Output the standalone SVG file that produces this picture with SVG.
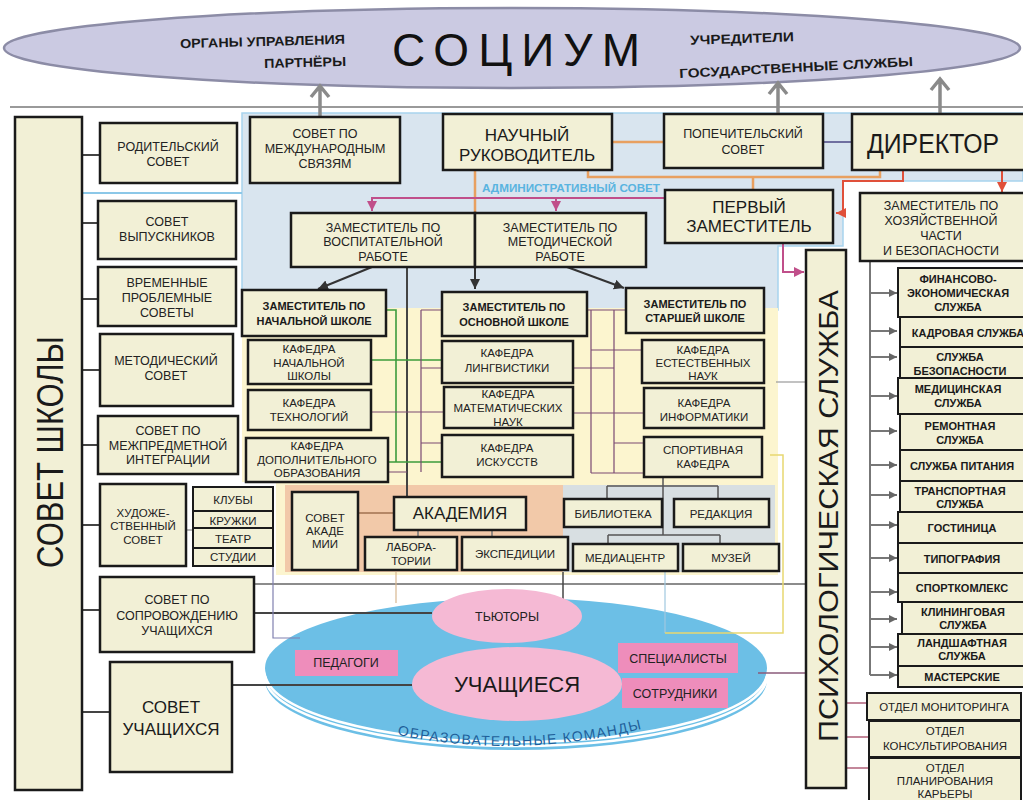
<svg xmlns="http://www.w3.org/2000/svg" width="1023" height="800" viewBox="0 0 1023 800">
<style>
.b{fill:#f2f0d6;stroke:#1a1a1a;stroke-width:2.5}
.s{fill:#f2f0d6;stroke:#1a1a1a;stroke-width:2}
.t{font-family:"Liberation Sans",Arial,sans-serif;font-size:12.5px;fill:#222;text-anchor:middle}
.k{font-family:"Liberation Sans",Arial,sans-serif;font-size:11.5px;fill:#222;text-anchor:middle}
.tb{font-family:"Liberation Sans",Arial,sans-serif;font-size:11px;font-weight:bold;fill:#1a1a1a;text-anchor:middle}
.big{font-family:"Liberation Sans",Arial,sans-serif;font-size:17px;fill:#1a1a1a;text-anchor:middle}
.top{font-family:"Liberation Sans",Arial,sans-serif;font-size:13px;font-weight:bold;fill:#1a1a1a}
.pk{fill:#ee8dbb}
.pe{fill:#f5b9d4}
.dk{fill:none;stroke:#444;stroke-width:2}
.gr{fill:none;stroke:#3c9c3c;stroke-width:1.6}
.pu{fill:none;stroke:#7a4a72;stroke-width:1.2}
.or{fill:none;stroke:#e8a060;stroke-width:2.5}
.mg{fill:none;stroke:#c04f8a;stroke-width:2}
.rd{fill:none;stroke:#e0503a;stroke-width:2}
.sv{fill:none;stroke:#777;stroke-width:2}
.up{fill:none;stroke:#8a8a8a;stroke-width:3.5}
</style>
<defs>
<marker id="aDk" markerUnits="userSpaceOnUse" markerWidth="12" markerHeight="12" refX="10" refY="5" orient="auto"><path d="M0,0 L10,5 L0,10 Z" fill="#333"/></marker>
<marker id="aMg" markerUnits="userSpaceOnUse" markerWidth="12" markerHeight="12" refX="10" refY="5" orient="auto"><path d="M0,0 L10,5 L0,10 Z" fill="#c04f8a"/></marker>
<marker id="aRd" markerUnits="userSpaceOnUse" markerWidth="12" markerHeight="12" refX="10" refY="5" orient="auto"><path d="M0,0 L10,5 L0,10 Z" fill="#e0503a"/></marker>
<marker id="aSv" markerUnits="userSpaceOnUse" markerWidth="10" markerHeight="10" refX="8" refY="4" orient="auto"><path d="M0,0 L8,4 L0,8 Z" fill="#666"/></marker>
<path id="arc" d="M 380 731 Q 518 764 660 724"/>
</defs>

<!-- backgrounds -->
<rect width="1023" height="800" fill="#ffffff"/>
<path d="M242,113 H1023 V181 H843 V246 H778 V310 H242 Z" fill="#d9e5ef" stroke="#a8d4ee" stroke-width="1.5"/>
<path d="M242,308 H778 V575 H276 V482 H242 Z" fill="#fcf5cf"/>
<rect x="285" y="485" width="278" height="87" fill="#f2c9a9"/>
<rect x="563" y="485" width="212" height="87" fill="#d8dfe2"/>

<!-- socium ellipse -->
<g id="socium">
<ellipse cx="512" cy="48" rx="508" ry="40" fill="#cbcae2" stroke="#8c8ca6" stroke-width="2.5"/>
<text class="top" x="180" y="46" textLength="165" lengthAdjust="spacingAndGlyphs" transform="rotate(-1.5 262 42)">ОРГАНЫ УПРАВЛЕНИЯ</text>
<text class="top" x="264" y="67" textLength="82" lengthAdjust="spacingAndGlyphs" transform="rotate(-1.5 305 62)">ПАРТНЁРЫ</text>
<text x="392" y="66" font-family="'Liberation Sans',Arial,sans-serif" font-size="46" fill="#111" textLength="248" lengthAdjust="spacing">СОЦИУМ</text>
<text class="top" x="690" y="43" textLength="104" lengthAdjust="spacingAndGlyphs" transform="rotate(-2 742 40)">УЧРЕДИТЕЛИ</text>
<text class="top" x="679" y="72" textLength="234" lengthAdjust="spacingAndGlyphs" transform="rotate(-3 796 66)">ГОСУДАРСТВЕННЫЕ СЛУЖБЫ</text>
</g>

<!-- pedagogical disc -->
<g id="disc">
<ellipse cx="516" cy="680" rx="251" ry="70" fill="#6cbfe6"/>
<path d="M265,676 A251,70 0 0 0 767,676" fill="none" stroke="#ffffff" stroke-width="2.5"/>
<path d="M265,672 A251,70 0 0 0 767,672" fill="none" stroke="#ffffff" stroke-width="2.5"/>
<ellipse cx="516" cy="668" rx="251" ry="70" fill="#6cbfe6"/>
<text font-family="'Liberation Sans',Arial,sans-serif" font-size="14" fill="#1f5f9a" letter-spacing="1.3"><textPath href="#arc" startOffset="50%" text-anchor="middle">ОБРАЗОВАТЕЛЬНЫЕ  КОМАНДЫ</textPath></text>
</g>

<!-- connectors -->
<g id="connectors">
<line x1="10" y1="107" x2="1023" y2="107" stroke="#9a9a9a" stroke-width="2"/>
<path class="up" d="M320,117 V88 M311,97 L320,86 L329,97"/>
<path class="up" d="M778,114 V85 M769,94 L778,83 L787,94"/>
<path class="up" d="M940,114 V81 M931,90 L940,79 L949,90"/>
<line x1="82" y1="193" x2="242" y2="193" stroke="#8cc8e8" stroke-width="2"/>
<path class="dk" d="M82,155 H100 M82,223 H98 M82,299 H98 M82,370 H100 M82,445 H98 M82,525 H100 M82,610 H100 M82,712 H110"/>
<path d="M186,530 H193" stroke="#888" stroke-width="1.2"/>
<path class="or" d="M612,142 H664 M588,170 V177 H880 V170 M753,177 V190 M475,170 V213"/>
<path d="M823,142 H852" stroke="#6f6fa0" stroke-width="2"/>
<path class="rd" d="M903,170 V181 H843 V213 H836" marker-end="url(#aRd)"/>
<path class="rd" d="M1002,170 V192" marker-end="url(#aRd)"/>
<path class="mg" d="M665,198 H372 V211" marker-end="url(#aMg)"/>
<path class="mg" d="M556,198 V211" marker-end="url(#aMg)"/>
<path class="mg" d="M783,243 V272 H804" marker-end="url(#aMg)"/>
<path d="M475,267 V289" stroke="#333" stroke-width="2" marker-end="url(#aDk)"/>
<path d="M372,267 L318,289" stroke="#333" stroke-width="2" marker-end="url(#aDk)"/>
<path d="M567,267 L624,288" stroke="#333" stroke-width="2" marker-end="url(#aDk)"/>
<path class="dk" d="M407,267 V497"/>
<path class="gr" d="M386,310 H396 V462 M371,360 H442 M388,462 H442"/>
<path class="pu" d="M421,310 H442 M421,310 V472 M421,368 H442 M371,412 H444 M421,443 H442 M388,472 H407"/>
<path class="pu" d="M587,310 H626 M591,310 V473 M614,310 V473 M591,350 H642 M573,368 H614 M573,413 H644 M614,443 H644 M591,473 H644"/>
<path d="M776,382 H806" stroke="#999" stroke-width="1.2"/>
<path d="M358,513 H394" stroke="#a07050" stroke-width="1.5"/>
<path d="M418,530 V537 M492,530 V537" stroke="#777" stroke-width="1.5"/>
<path d="M607,486 H718 M607,486 V499 M718,486 V499 M663,477 V535 M608,535 H720 M608,535 V544 M720,535 V544" fill="none" stroke="#555" stroke-width="1.5"/>
<path class="sv" d="M870,261 V675"/>
<path class="sv" marker-end="url(#aSv)" d="M870,293 H897"/>
<path class="sv" marker-end="url(#aSv)" d="M870,331 H897"/>
<path class="sv" marker-end="url(#aSv)" d="M870,357 H897"/>
<path class="sv" marker-end="url(#aSv)" d="M870,396 H897"/>
<path class="sv" marker-end="url(#aSv)" d="M870,431 H897"/>
<path class="sv" marker-end="url(#aSv)" d="M870,465 H897"/>
<path class="sv" marker-end="url(#aSv)" d="M870,495 H897"/>
<path class="sv" marker-end="url(#aSv)" d="M870,525 H897"/>
<path class="sv" marker-end="url(#aSv)" d="M870,558 H897"/>
<path class="sv" marker-end="url(#aSv)" d="M870,592 H897"/>
<path class="sv" marker-end="url(#aSv)" d="M870,619 H897"/>
<path class="sv" marker-end="url(#aSv)" d="M870,647 H897"/>
<path class="sv" marker-end="url(#aSv)" d="M870,675 H897"/>
<path d="M846,703 H867 M846,737 H869 M846,768 H869" stroke="#b0607a" stroke-width="1.6"/>
<path d="M254,584 H806" stroke="#666" stroke-width="1.5"/>
<path class="dk" d="M254,613 H432"/>
<path class="dk" d="M232,685 H412"/>
<path d="M273,566 V638 H300" fill="none" stroke="#8080b0" stroke-width="1.2"/>
<path d="M396,572 V603" stroke="#d8b890" stroke-width="1.2"/>
<path d="M563,572 V600" stroke="#444" stroke-width="1.5"/>
<path d="M665,572 V633" stroke="#a0c8e0" stroke-width="1.2"/>
<path d="M770,455 H783 V633 H665" fill="none" stroke="#e8d870" stroke-width="1.5"/>
<path d="M758,673 H806" stroke="#8a5a7a" stroke-width="1.5"/>
</g>

<!-- left column -->
<g id="sovet-shkoly"><rect class="b" x="15" y="117" width="67" height="673"/><text x="0" y="0" transform="translate(63,452) rotate(-90)" font-family="'Liberation Sans',Arial,sans-serif" font-size="36" fill="#1a1a1a" text-anchor="middle" textLength="232" lengthAdjust="spacingAndGlyphs">СОВЕТ ШКОЛЫ</text></g>
<g id="roditelsky"><rect class="b" x="100" y="123" width="137" height="60"/><text class="t" x="168" y="151">РОДИТЕЛЬСКИЙ</text><text class="t" x="168" y="166">СОВЕТ</text></g>
<g id="vypusknikov"><rect class="b" x="98" y="201" width="138" height="58"/><text class="t" x="167" y="226">СОВЕТ</text><text class="t" x="167" y="241">ВЫПУСКНИКОВ</text></g>
<g id="vremennye"><rect class="b" x="98" y="267" width="138" height="59"/><text class="t" x="167" y="287">ВРЕМЕННЫЕ</text><text class="t" x="167" y="302">ПРОБЛЕМНЫЕ</text><text class="t" x="167" y="317">СОВЕТЫ</text></g>
<g id="metodichesky"><rect class="b" x="100" y="334" width="133" height="72"/><text class="t" x="166" y="365">МЕТОДИЧЕСКИЙ</text><text class="t" x="166" y="380">СОВЕТ</text></g>
<g id="mezhpredmet"><rect class="b" x="98" y="416" width="140" height="58"/><text class="t" x="168" y="435">СОВЕТ ПО</text><text class="t" x="168" y="450">МЕЖПРЕДМЕТНОЙ</text><text class="t" x="168" y="464">ИНТЕГРАЦИИ</text></g>
<g id="hudozh"><rect class="b" x="100" y="484" width="86" height="82"/><text class="k" x="143" y="517">ХУДОЖЕ-</text><text class="k" x="143" y="530">СТВЕННЫЙ</text><text class="k" x="143" y="544">СОВЕТ</text></g>
<g id="kluby"><rect class="s" x="193" y="487" width="80" height="24"/><text class="k" x="233" y="504">КЛУБЫ</text></g>
<g id="kruzhki"><rect class="s" x="193" y="511" width="80" height="17"/><text class="k" x="233" y="525">КРУЖКИ</text></g>
<g id="teatr"><rect class="s" x="193" y="528" width="80" height="20"/><text class="k" x="233" y="543">ТЕАТР</text></g>
<g id="studii"><rect class="s" x="193" y="548" width="80" height="18"/><text class="k" x="233" y="561">СТУДИИ</text></g>
<g id="soprovozhd"><rect class="b" x="100" y="577" width="154" height="75"/><text class="t" x="177" y="604">СОВЕТ ПО</text><text class="t" x="177" y="620">СОПРОВОЖДЕНИЮ</text><text class="t" x="177" y="635">УЧАЩИХСЯ</text></g>
<g id="sovet-uch"><rect class="b" x="110" y="662" width="122" height="110"/><text class="big" x="171" y="713" font-size="18">СОВЕТ</text><text class="big" x="171" y="735" font-size="18">УЧАЩИХСЯ</text></g>

<!-- top row -->
<g id="mezhdunarod"><rect class="b" x="250" y="117" width="150" height="66"/><text class="t" x="325" y="138">СОВЕТ ПО</text><text class="t" x="325" y="153">МЕЖДУНАРОДНЫМ</text><text class="t" x="325" y="168">СВЯЗЯМ</text></g>
<g id="nauchny"><rect class="b" x="443" y="114" width="169" height="56"/><text class="big" x="527" y="141">НАУЧНЫЙ</text><text class="big" x="527" y="161">РУКОВОДИТЕЛЬ</text></g>
<g id="popech"><rect class="b" x="664" y="114" width="159" height="54"/><text class="t" x="743" y="138" font-size="14">ПОПЕЧИТЕЛЬСКИЙ</text><text class="t" x="743" y="154" font-size="14">СОВЕТ</text></g>
<g id="direktor"><rect class="b" x="852" y="114" width="175" height="56"/><text x="933" y="153" font-family="'Liberation Sans',Arial,sans-serif" font-size="27" fill="#1a1a1a" text-anchor="middle" textLength="132" lengthAdjust="spacingAndGlyphs">ДИРЕКТОР</text></g>
<g id="pervy"><rect class="b" x="665" y="190" width="168" height="53"/><text class="big" x="749" y="213">ПЕРВЫЙ</text><text class="big" x="749" y="232">ЗАМЕСТИТЕЛЬ</text></g>
<g id="hoz"><rect class="b" x="860" y="193" width="167" height="68"/><text class="t" x="941" y="210">ЗАМЕСТИТЕЛЬ ПО</text><text class="t" x="941" y="225">ХОЗЯЙСТВЕННОЙ</text><text class="t" x="941" y="240">ЧАСТИ</text><text class="t" x="941" y="255">И БЕЗОПАСНОСТИ</text></g>
<text x="571" y="192" font-family="'Liberation Sans',Arial,sans-serif" font-size="11" font-weight="bold" fill="#5ab4e0" text-anchor="middle" textLength="178" lengthAdjust="spacingAndGlyphs">АДМИНИСТРАТИВНЫЙ СОВЕТ</text>
<g id="vosp"><rect class="b" x="291" y="213" width="184" height="54"/><text class="t" x="383" y="232">ЗАМЕСТИТЕЛЬ ПО</text><text class="t" x="383" y="246">ВОСПИТАТЕЛЬНОЙ</text><text class="t" x="383" y="261">РАБОТЕ</text></g>
<g id="metod"><rect class="b" x="475" y="213" width="171" height="54"/><text class="t" x="560" y="232">ЗАМЕСТИТЕЛЬ ПО</text><text class="t" x="560" y="246">МЕТОДИЧЕСКОЙ</text><text class="t" x="560" y="261">РАБОТЕ</text></g>

<!-- school deputies -->
<g id="zam-nach"><rect class="b" x="242" y="290" width="144" height="46"/><text class="tb" x="314" y="310">ЗАМЕСТИТЕЛЬ ПО</text><text class="tb" x="314" y="325">НАЧАЛЬНОЙ ШКОЛЕ</text></g>
<g id="zam-osn"><rect class="b" x="442" y="292" width="145" height="44"/><text class="tb" x="514" y="311">ЗАМЕСТИТЕЛЬ ПО</text><text class="tb" x="514" y="326">ОСНОВНОЙ ШКОЛЕ</text></g>
<g id="zam-star"><rect class="b" x="626" y="288" width="138" height="45"/><text class="tb" x="695" y="308">ЗАМЕСТИТЕЛЬ ПО</text><text class="tb" x="695" y="322">СТАРШЕЙ ШКОЛЕ</text></g>

<!-- kafedras -->
<g id="kaf-nach"><rect class="b" x="248" y="340" width="123" height="44"/><text class="k" x="309" y="353">КАФЕДРА</text><text class="k" x="309" y="367">НАЧАЛЬНОЙ</text><text class="k" x="309" y="380">ШКОЛЫ</text></g>
<g id="kaf-tech"><rect class="b" x="248" y="390" width="123" height="40"/><text class="k" x="309" y="407">КАФЕДРА</text><text class="k" x="309" y="421">ТЕХНОЛОГИЙ</text></g>
<g id="kaf-dop"><rect class="b" x="246" y="438" width="142" height="44"/><text class="k" x="317" y="450">КАФЕДРА</text><text class="k" x="317" y="464">ДОПОЛНИТЕЛЬНОГО</text><text class="k" x="317" y="477">ОБРАЗОВАНИЯ</text></g>
<g id="kaf-ling"><rect class="b" x="442" y="341" width="131" height="42"/><text class="k" x="507" y="357">КАФЕДРА</text><text class="k" x="507" y="372">ЛИНГВИСТИКИ</text></g>
<g id="kaf-math"><rect class="b" x="444" y="387" width="129" height="41"/><text class="k" x="508" y="398">КАФЕДРА</text><text class="k" x="508" y="412">МАТЕМАТИЧЕСКИХ</text><text class="k" x="508" y="426">НАУК</text></g>
<g id="kaf-isk"><rect class="b" x="442" y="435" width="131" height="42"/><text class="k" x="507" y="452">КАФЕДРА</text><text class="k" x="507" y="466">ИСКУССТВ</text></g>
<g id="kaf-est"><rect class="b" x="642" y="340" width="122" height="43"/><text class="k" x="703" y="354">КАФЕДРА</text><text class="k" x="703" y="367">ЕСТЕСТВЕННЫХ</text><text class="k" x="703" y="380">НАУК</text></g>
<g id="kaf-inf"><rect class="b" x="644" y="388" width="120" height="40"/><text class="k" x="704" y="407">КАФЕДРА</text><text class="k" x="704" y="421">ИНФОРМАТИКИ</text></g>
<g id="kaf-sport"><rect class="b" x="644" y="437" width="118" height="40"/><text class="k" x="703" y="454">СПОРТИВНАЯ</text><text class="k" x="703" y="468">КАФЕДРА</text></g>

<!-- academy & resources -->
<g id="sovet-akad"><rect class="b" x="292" y="492" width="66" height="78"/><text class="k" x="325" y="522">СОВЕТ</text><text class="k" x="325" y="535">АКАДЕ</text><text class="k" x="325" y="548">МИИ</text></g>
<g id="akademiya"><rect class="b" x="394" y="497" width="132" height="33"/><text class="big" x="460" y="519" font-size="16">АКАДЕМИЯ</text></g>
<g id="labor"><rect class="b" x="365" y="537" width="92" height="33"/><text class="k" x="411" y="551" font-size="11">ЛАБОРА-</text><text class="k" x="411" y="565" font-size="11">ТОРИИ</text></g>
<g id="eksped"><rect class="b" x="462" y="537" width="106" height="33"/><text class="k" x="515" y="558">ЭКСПЕДИЦИИ</text></g>
<g id="biblioteka"><rect class="b" x="564" y="499" width="98" height="28"/><text class="k" x="613" y="518" font-size="11">БИБЛИОТЕКА</text></g>
<g id="redakciya"><rect class="b" x="674" y="499" width="95" height="28"/><text class="k" x="721" y="518" font-size="11">РЕДАКЦИЯ</text></g>
<g id="mediacentr"><rect class="b" x="573" y="544" width="105" height="27"/><text class="k" x="625" y="562" font-size="11">МЕДИАЦЕНТР</text></g>
<g id="muzey"><rect class="b" x="683" y="544" width="96" height="27"/><text class="k" x="731" y="562" font-size="11">МУЗЕЙ</text></g>

<!-- disc nodes -->
<g id="tutory"><ellipse class="pe" cx="507" cy="616" rx="75" ry="27"/><text class="t" x="507" y="621" font-size="14">ТЬЮТОРЫ</text></g>
<g id="uchashchiesya"><ellipse class="pe" cx="517" cy="684" rx="105" ry="37"/><text x="517" y="692" font-family="'Liberation Sans',Arial,sans-serif" font-size="22" fill="#1a1a1a" text-anchor="middle">УЧАЩИЕСЯ</text></g>
<g id="pedagogi"><rect class="pk" x="295" y="650" width="103" height="26"/><text class="t" x="346" y="667" font-size="12">ПЕДАГОГИ</text></g>
<g id="specialisty"><rect class="pk" x="618" y="643" width="120" height="30"/><text class="t" x="678" y="663" font-size="12">СПЕЦИАЛИСТЫ</text></g>
<g id="sotrudniki"><rect class="pk" x="622" y="678" width="106" height="30"/><text class="t" x="675" y="698" font-size="12">СОТРУДНИКИ</text></g>

<!-- psychological service -->
<g id="psych"><rect class="b" x="806" y="250" width="40" height="538"/><text x="0" y="0" transform="translate(838,516) rotate(-90)" font-family="'Liberation Sans',Arial,sans-serif" font-size="28" fill="#1a1a1a" text-anchor="middle" textLength="452" lengthAdjust="spacingAndGlyphs">ПСИХОЛОГИЧЕСКАЯ СЛУЖБА</text></g>

<!-- services -->
<g id="fin"><rect class="s" x="898" y="268" width="130" height="49"/><text class="tb" x="958" y="283">ФИНАНСОВО-</text><text class="tb" x="958" y="297">ЭКОНОМИЧЕСКАЯ</text><text class="tb" x="958" y="311">СЛУЖБА</text></g>
<g id="kadr"><rect class="s" x="900" y="317" width="128" height="30"/><text class="tb" x="968" y="337">КАДРОВАЯ СЛУЖБА</text></g>
<g id="bezop"><rect class="s" x="900" y="347" width="128" height="31"/><text class="tb" x="960" y="361">СЛУЖБА</text><text class="tb" x="960" y="375">БЕЗОПАСНОСТИ</text></g>
<g id="med"><rect class="s" x="898" y="378" width="130" height="36"/><text class="tb" x="958" y="393">МЕДИЦИНСКАЯ</text><text class="tb" x="958" y="407">СЛУЖБА</text></g>
<g id="remont"><rect class="s" x="900" y="414" width="128" height="36"/><text class="tb" x="960" y="430">РЕМОНТНАЯ</text><text class="tb" x="960" y="444">СЛУЖБА</text></g>
<g id="pitanie"><rect class="s" x="900" y="450" width="128" height="31"/><text class="tb" x="962" y="470">СЛУЖБА ПИТАНИЯ</text></g>
<g id="transport"><rect class="s" x="900" y="481" width="128" height="31"/><text class="tb" x="960" y="495">ТРАНСПОРТНАЯ</text><text class="tb" x="960" y="508">СЛУЖБА</text></g>
<g id="gostinica"><rect class="s" x="898" y="512" width="130" height="31"/><text class="tb" x="962" y="532" font-size="12">ГОСТИНИЦА</text></g>
<g id="tipografiya"><rect class="s" x="898" y="543" width="130" height="30"/><text class="tb" x="962" y="563" font-size="12">ТИПОГРАФИЯ</text></g>
<g id="sportkompleks"><rect class="s" x="898" y="573" width="130" height="29"/><text class="tb" x="962" y="592" font-size="12">СПОРТКОМЛЕКС</text></g>
<g id="klining"><rect class="s" x="902" y="602" width="126" height="32"/><text class="tb" x="963" y="616">КЛИНИНГОВАЯ</text><text class="tb" x="963" y="629">СЛУЖБА</text></g>
<g id="landshaft"><rect class="s" x="898" y="634" width="130" height="32"/><text class="tb" x="962" y="647">ЛАНДШАФТНАЯ</text><text class="tb" x="962" y="660">СЛУЖБА</text></g>
<g id="masterskie"><rect class="s" x="898" y="666" width="130" height="21"/><text class="tb" x="962" y="681" font-size="12">МАСТЕРСКИЕ</text></g>
<g id="monitoring"><rect class="s" x="867" y="693" width="154" height="27"/><text class="k" x="944" y="711">ОТДЕЛ МОНИТОРИНГА</text></g>
<g id="konsult"><rect class="s" x="869" y="721" width="152" height="36"/><text class="k" x="945" y="735">ОТДЕЛ</text><text class="k" x="945" y="750">КОНСУЛЬТИРОВАНИЯ</text></g>
<g id="karera"><rect class="s" x="869" y="758" width="152" height="48"/><text class="k" x="945" y="772">ОТДЕЛ</text><text class="k" x="945" y="785">ПЛАНИРОВАНИЯ</text><text class="k" x="945" y="798">КАРЬЕРЫ</text></g>
</svg>
